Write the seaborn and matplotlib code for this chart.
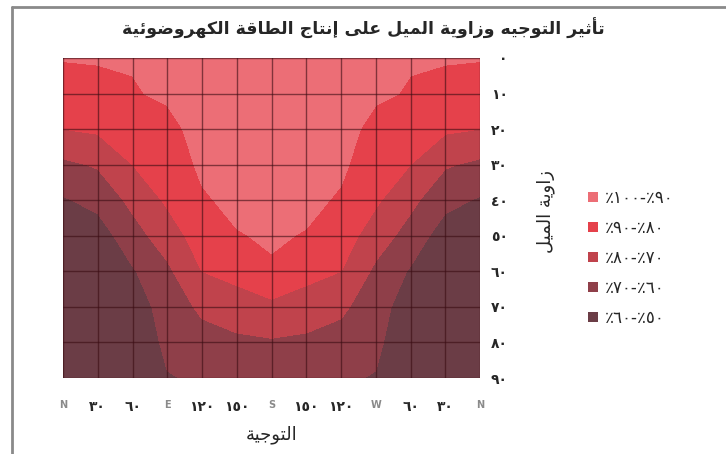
import numpy as np
import pandas as pd
import seaborn as sns
import matplotlib.pyplot as plt
from matplotlib.lines import Line2D
from matplotlib.patches import Patch

# Data ########################################################################

orientation = [0, 30, 60, 90, 120, 150, 180, 210, 240, 270, 300, 330, 360]
x_labels = ['N', '٣٠', '٦٠', 'E', '١٢٠', '١٥٠', 'S', '١٥٠', '١٢٠', 'W', '٦٠', '٣٠', 'N']

tilt = [0, 10, 20, 30, 40, 50, 60, 70, 80, 90]
y_labels = ['٠', '١٠', '٢٠', '٣٠', '٤٠', '٥٠', '٦٠', '٧٠', '٨٠', '٩٠']

# production (%) per tilt row, one value per orientation column
prod_t00 = [90.5, 90.5, 90.5, 90.5, 90.5, 90.5, 90.5, 90.5, 90.5, 90.5, 90.5, 90.5, 90.5]
prod_t10 = [85.5, 88, 89.5, 91, 92, 92.5, 93, 92.5, 92, 91, 89.5, 88, 85.5]
prod_t20 = [80, 81.5, 85, 88, 92.5, 93.5, 94, 93.5, 92.5, 88, 85, 81.5, 80]
prod_t30 = [68, 71, 80, 85, 91.5, 93, 94, 93, 91.5, 85, 80, 71, 68]
prod_t40 = [59, 63, 72.5, 81.5, 89, 92, 93, 92, 89, 81.5, 72.5, 63, 59]
prod_t50 = [55, 55, 66, 75, 85, 89.5, 91, 89.5, 85, 75, 66, 55, 55]
prod_t60 = [53, 53, 59, 68, 80, 83, 89, 83, 80, 68, 59, 53, 53]
prod_t70 = [52, 52, 55, 64, 72, 75.5, 77.5, 75.5, 72, 64, 55, 52, 52]
prod_t80 = [51, 51, 53, 62, 66, 68, 69, 68, 66, 62, 53, 51, 51]
prod_t90 = [50.5, 50.5, 51.5, 59.5, 61, 62.5, 63, 62.5, 61, 59.5, 51.5, 50.5, 50.5]

levels = [50, 60, 70, 80, 90, 100]
band_labels = ['٪١٠٠-٪٩٠', '٪٩٠-٪٨٠', '٪٨٠-٪٧٠', '٪٧٠-٪٦٠', '٪٦٠-٪٥٠']
band_colors = ['#6b3d46', '#8f3f49', '#c0434c', '#e5414b', '#ec6e76']  # low -> high

title = 'تأثير التوجيه وزاوية الميل على إنتاج الطاقة الكهروضوئية'
xlabel = 'التوجية'
ylabel = 'زاوية الميل'

# Arabic shaping (matplotlib has no RTL / joining support) ####################

FORMS = {
    'ا': ('\uFE8D', '\uFE8E', None, None),
    'أ': ('\uFE83', '\uFE84', None, None),
    'إ': ('\uFE87', '\uFE88', None, None),
    'ة': ('\uFE93', '\uFE94', None, None),
    'ت': ('\uFE95', '\uFE96', '\uFE97', '\uFE98'),
    'ث': ('\uFE99', '\uFE9A', '\uFE9B', '\uFE9C'),
    'ج': ('\uFE9D', '\uFE9E', '\uFE9F', '\uFEA0'),
    'ر': ('\uFEAD', '\uFEAE', None, None),
    'ز': ('\uFEAF', '\uFEB0', None, None),
    'ض': ('\uFEBD', '\uFEBE', '\uFEBF', '\uFEC0'),
    'ط': ('\uFEC1', '\uFEC2', '\uFEC3', '\uFEC4'),
    'ع': ('\uFEC9', '\uFECA', '\uFECB', '\uFECC'),
    'ق': ('\uFED5', '\uFED6', '\uFED7', '\uFED8'),
    'ك': ('\uFED9', '\uFEDA', '\uFEDB', '\uFEDC'),
    'ل': ('\uFEDD', '\uFEDE', '\uFEDF', '\uFEE0'),
    'م': ('\uFEE1', '\uFEE2', '\uFEE3', '\uFEE4'),
    'ن': ('\uFEE5', '\uFEE6', '\uFEE7', '\uFEE8'),
    'ه': ('\uFEE9', '\uFEEA', '\uFEEB', '\uFEEC'),
    'و': ('\uFEED', '\uFEEE', None, None),
    'ى': ('\uFEEF', '\uFEF0', None, None),
    'ي': ('\uFEF1', '\uFEF2', '\uFEF3', '\uFEF4'),
    'ئ': ('\uFE89', '\uFE8A', '\uFE8B', '\uFE8C'),
}
LAM_ALEF = {'ا': ('\uFEFB', '\uFEFC'), 'أ': ('\uFEF7', '\uFEF8'), 'إ': ('\uFEF9', '\uFEFA')}


def shape(text):
    out = []
    prev_joins = False
    i = 0
    while i < len(text):
        c = text[i]
        if c not in FORMS:
            out.append(c)
            prev_joins = False
            i += 1
            continue
        nxt = text[i + 1] if i + 1 < len(text) else ''
        if c == 'ل' and nxt in LAM_ALEF:
            out.append(LAM_ALEF[nxt][1 if prev_joins else 0])
            prev_joins = False
            i += 2
            continue
        iso, fin, ini, med = FORMS[c]
        joins_next = ini is not None and nxt in FORMS
        if prev_joins and joins_next:
            g = med
        elif prev_joins:
            g = fin
        elif joins_next:
            g = ini
        else:
            g = iso
        out.append(g)
        prev_joins = joins_next
        i += 1
    return ''.join(reversed(out))


# Plot ########################################################################

sns.set_theme(style='white')
plt.rcParams['font.family'] = ['DejaVu Sans']

df = pd.DataFrame([prod_t00, prod_t10, prod_t20, prod_t30, prod_t40,
                   prod_t50, prod_t60, prod_t70, prod_t80, prod_t90],
                  index=tilt, columns=orientation)

fig = plt.figure(figsize=(7.26, 4.54), dpi=100)
ax = fig.add_axes([63 / 726, 1 - 378 / 454, 417 / 726, 320 / 454])

palette = sns.color_palette(band_colors)
ax.contourf(df.columns.values, df.index.values, df.values,
            levels=levels, colors=palette)

ax.set_xlim(0, 360)
ax.set_ylim(90, 0)
ax.set_xticks(orientation)
ax.set_xticklabels(x_labels, fontsize=10, fontweight='bold')
for lab in ax.get_xticklabels():
    if lab.get_text() in ('N', 'E', 'S', 'W'):
        lab.set_color('#8a8a8a')
        lab.set_fontsize(7)
ax.set_yticks(tilt)
ax.yaxis.tick_right()
ax.set_yticklabels(y_labels, fontsize=10, fontweight='bold', ha='right')
ax.tick_params(axis='x', length=0, pad=16)
ax.tick_params(axis='y', length=0, pad=20)

ax.grid(True, color='#3a0c12', alpha=0.6, linewidth=1)
ax.set_axisbelow(False)
sns.despine(ax=ax, left=True, bottom=True, top=True, right=True)

ax.set_xlabel(shape(xlabel), fontsize=13, labelpad=8)
ax.yaxis.set_label_position('right')
ax.set_ylabel(shape(ylabel), fontsize=13, rotation=90)
ax.yaxis.set_label_coords((536 - 63) / 417, 0.52)

fig.text(0.5, 1 - 28 / 454, shape(title), ha='center', va='center',
         fontsize=12.5, fontweight='bold')

handles = [Patch(facecolor=c, edgecolor='none') for c in band_colors[::-1]]
fig.legend(handles, band_labels, loc='center left',
           bbox_to_anchor=(573 / 726, 1 - 258 / 454), frameon=False,
           fontsize=12, handlelength=0.6, handleheight=0.6,
           handletextpad=0.4, labelspacing=0.72)

# outer frame (top and left edges only)
fig.add_artist(Line2D([12 / 726, 1], [1 - 7 / 454, 1 - 7 / 454],
                      transform=fig.transFigure, color='#8a8a8a', lw=2))
fig.add_artist(Line2D([12 / 726, 12 / 726], [0, 1 - 7 / 454],
                      transform=fig.transFigure, color='#8a8a8a', lw=2))

fig.savefig('out.png', dpi=100)
